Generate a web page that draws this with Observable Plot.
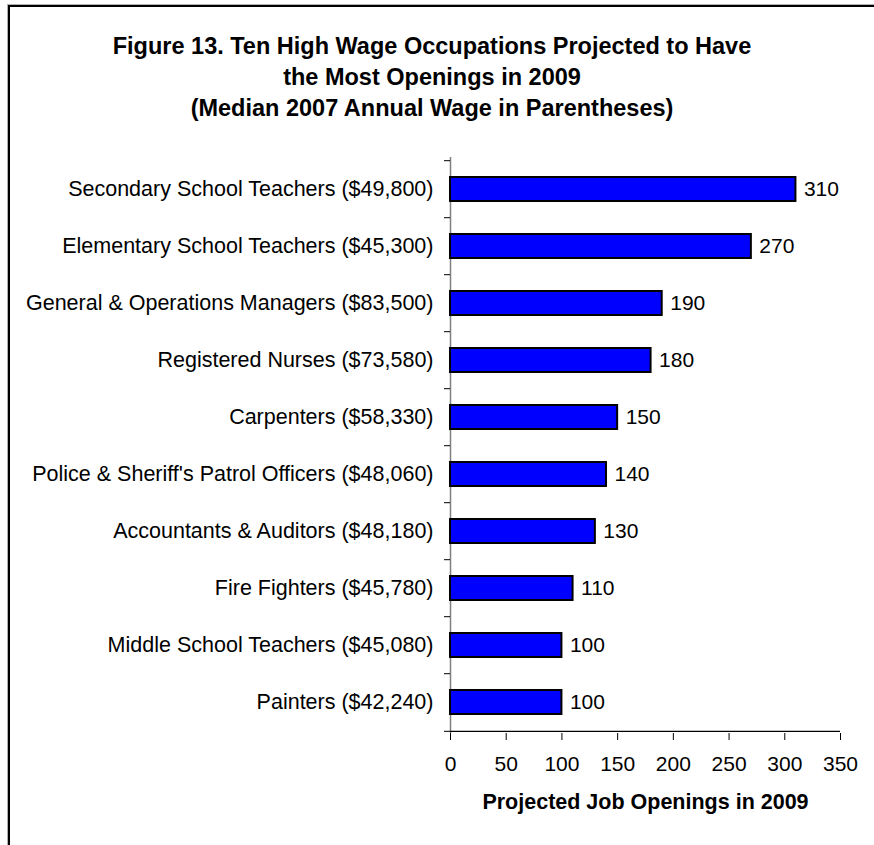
<!DOCTYPE html>
<html><head><meta charset="utf-8">
<script src="https://cdn.jsdelivr.net/npm/d3@7"></script>
<script src="https://cdn.jsdelivr.net/npm/@observablehq/plot@0.6"></script>
<style>
body{margin:0;background:#fff;}
#wrap{position:relative;width:874px;height:845px;overflow:hidden;font-family:"Liberation Sans",Arial,sans-serif;background:#fff;}
#frame{position:absolute;left:8px;top:5px;width:900px;height:900px;border-left:2px solid #000;border-top:2px solid #000;box-shadow:-1px -1px 0 #b0b0b0;}
#title{position:absolute;left:0;top:30.5px;width:864px;text-align:center;font-weight:bold;font-size:23.5px;line-height:31px;color:#000;}
#chart{position:absolute;left:0;top:0;}
</style></head>
<body><div id="wrap"><div id="frame"></div><div id="title"></div><div id="chart"></div></div>
<script>
const occupations = [
  "Secondary School Teachers",
  "Elementary School Teachers",
  "General & Operations Managers",
  "Registered Nurses",
  "Carpenters",
  "Police & Sheriff's Patrol Officers",
  "Accountants & Auditors",
  "Fire Fighters",
  "Middle School Teachers",
  "Painters"
];
const wages = ["$49,800","$45,300","$83,500","$73,580","$58,330","$48,060","$48,180","$45,780","$45,080","$42,240"];
const openings = [310,270,190,180,150,140,130,110,100,100];
const xTicks = [0,50,100,150,200,250,300,350];
const titleLines = [
  "Figure 13. Ten High Wage Occupations Projected to Have",
  "the Most Openings in 2009",
  "(Median 2007 Annual Wage in Parentheses)"
];
const xTitle = "Projected Job Openings in 2009";

const labels = occupations.map((o, i) => `${o} (${wages[i]})`);
const data = labels.map((label, i) => ({label, value: openings[i]}));

document.getElementById("title").innerHTML = titleLines.join("<br>");

const W = 874, H = 845, mt = 157, mb = 112, ml = 450, mr = 34;
const step = (H - mt - mb) / labels.length;
const font = '"Liberation Sans", Arial, sans-serif';

const chart = Plot.plot({
  width: W, height: H,
  marginTop: mt, marginBottom: mb, marginLeft: ml, marginRight: mr,
  style: {background: "transparent", fontFamily: font, fontSize: "21px", color: "#000", overflow: "visible"},
  x: {domain: [0, 350], label: null},
  y: {domain: labels, paddingInner: 0.58, paddingOuter: 0.29, label: null},
  marks: [
    Plot.ruleX([0], {stroke: "#808080", strokeWidth: 1.5}),
    Plot.axisY({tickSize: 0, tickPadding: 17, label: null, fill: "#000", fontSize: 21.5}),
    Plot.axisY({tickSize: 6, dy: -step / 2, tickFormat: () => "", label: null, stroke: "#000"}),
    Plot.axisY({ticks: [labels[labels.length - 1]], tickSize: 6, dy: step / 2, tickFormat: () => "", label: null, stroke: "#000"}),
    Plot.ruleY([labels[labels.length - 1]], {y: d => d, x1: 0, x2: 350, dy: step / 2, stroke: "#000", strokeWidth: 1.2}),
    Plot.barX(data, {x: "value", y: "label", fill: "#0000FF", stroke: "#000", strokeWidth: 2}),
    Plot.text(data, {x: "value", y: "label", text: d => String(d.value), textAnchor: "start", dx: 8, fill: "#000"}),
    Plot.axisX({ticks: xTicks, tickSize: 7, tickPadding: 16, label: null, stroke: "#000", fill: "#000"}),
    Plot.text([xTitle], {frameAnchor: "bottom", dy: 69, lineAnchor: "middle", fontWeight: "bold", fontSize: 21.5, fill: "#000"})
  ]
});
document.getElementById("chart").appendChild(chart);
</script>
</body></html>
